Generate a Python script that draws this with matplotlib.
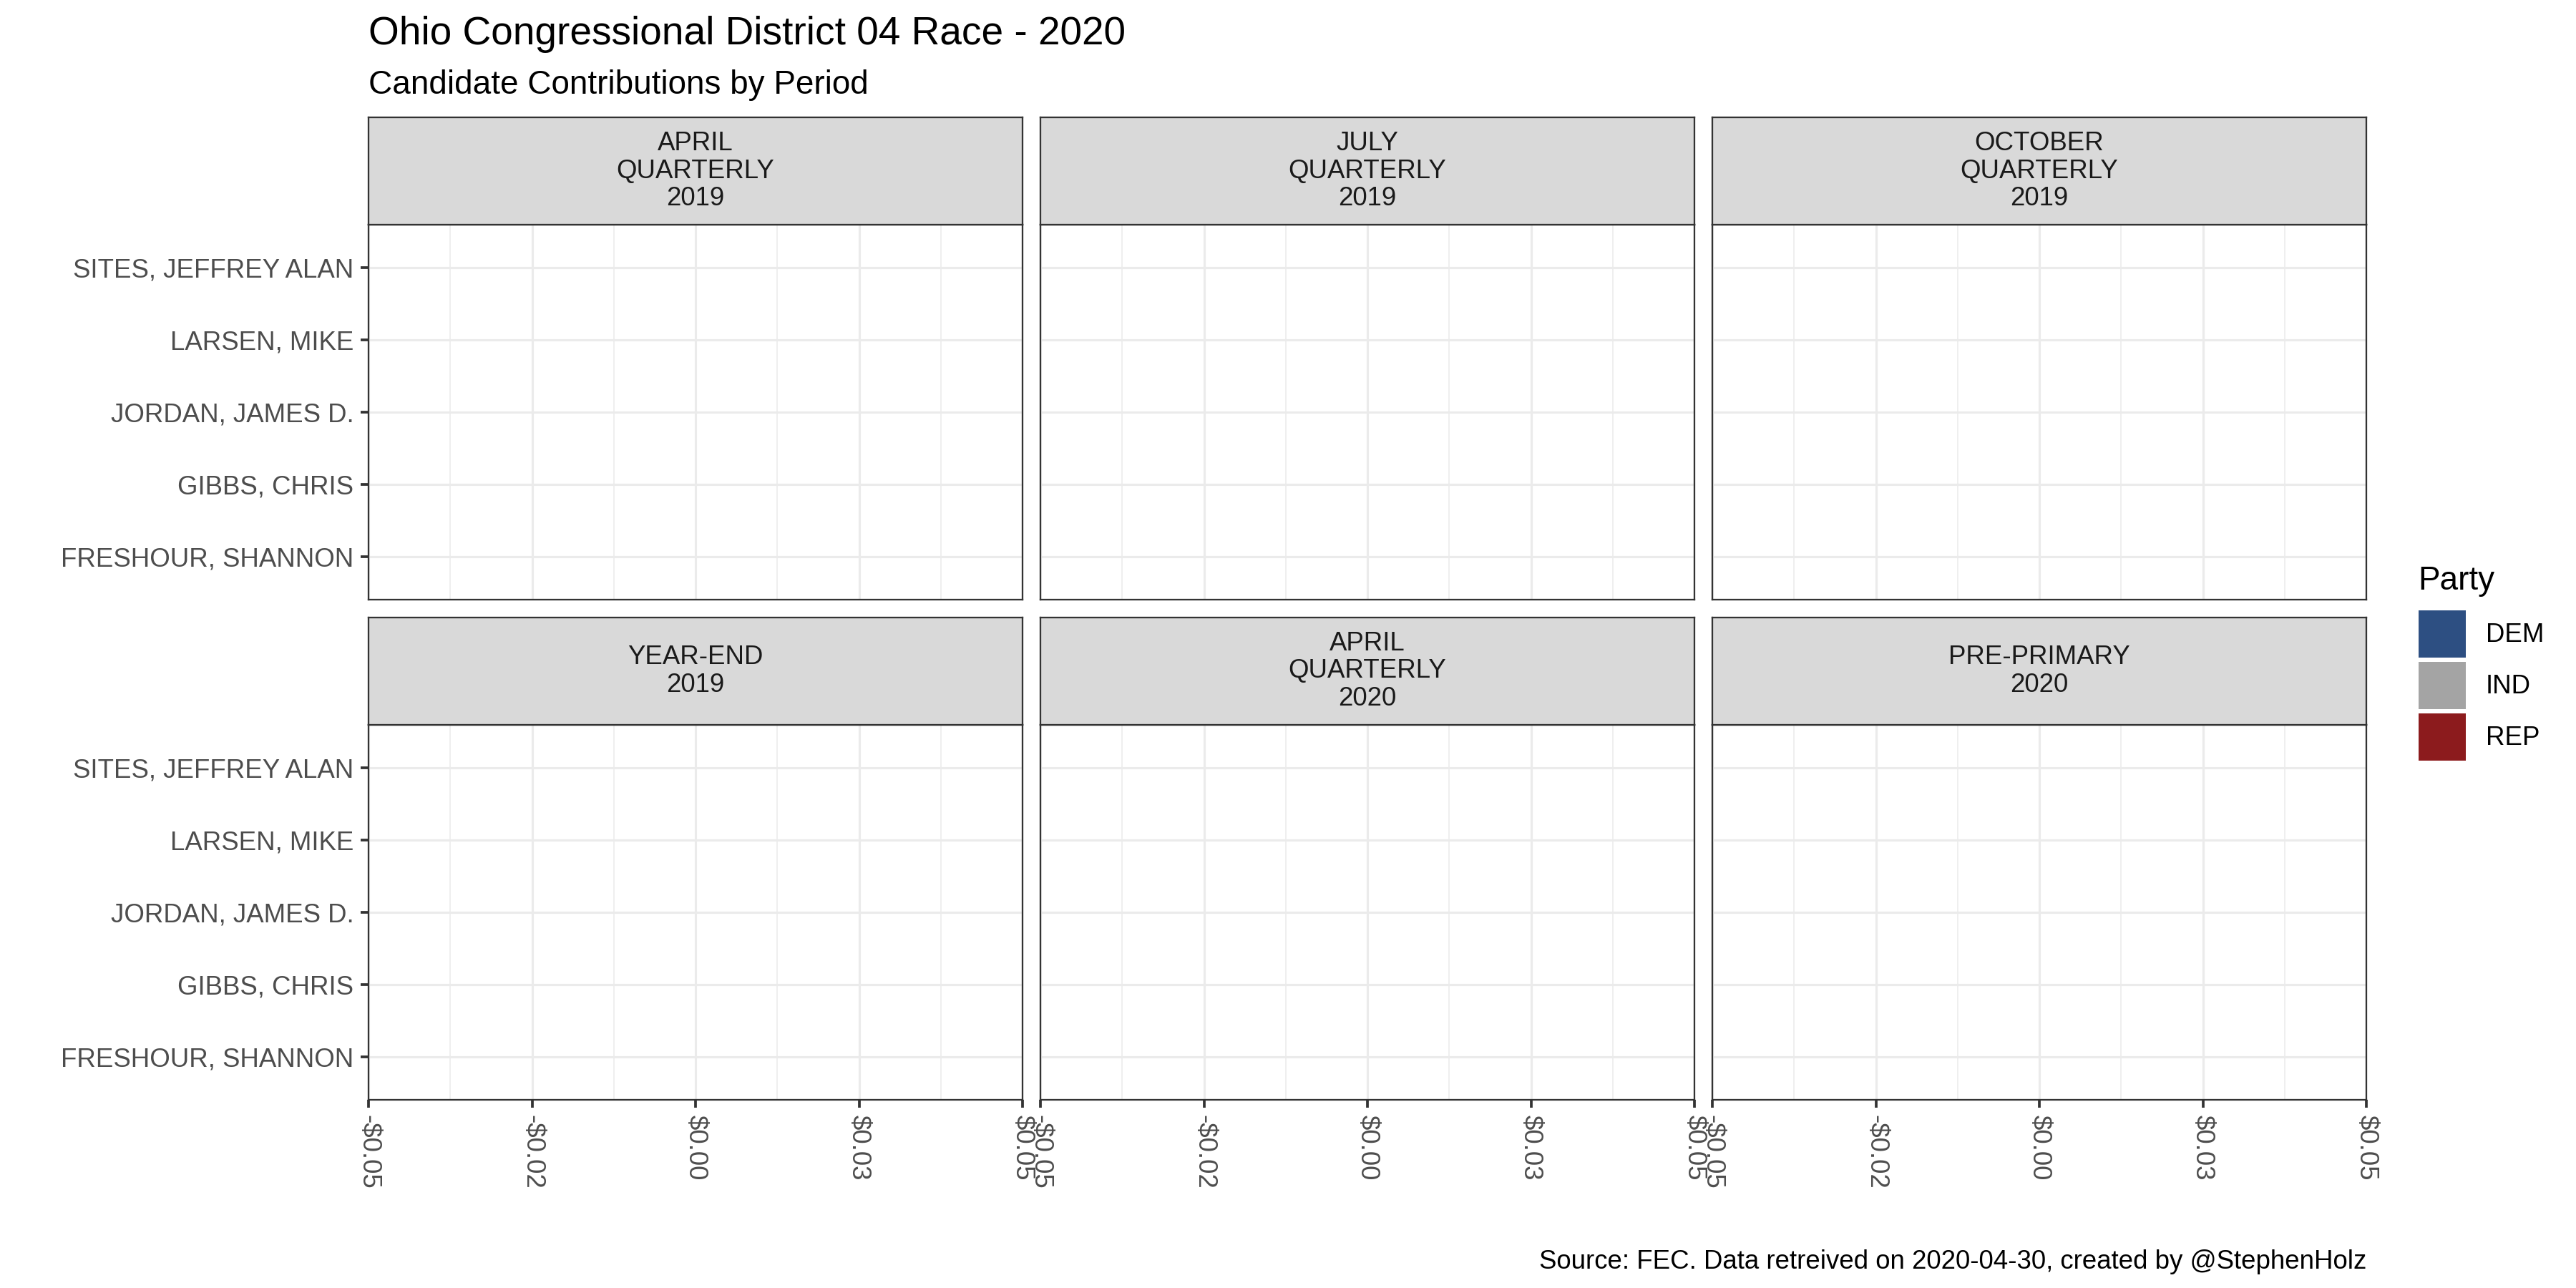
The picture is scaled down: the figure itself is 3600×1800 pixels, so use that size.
import matplotlib
matplotlib.use("Agg")
import matplotlib.pyplot as plt
from matplotlib.patches import Patch

plt.rcParams['font.family'] = ['Liberation Sans', 'DejaVu Sans']

# data
candidates = ['FRESHOUR, SHANNON', 'GIBBS, CHRIS', 'JORDAN, JAMES D.', 'LARSEN, MIKE', 'SITES, JEFFREY ALAN']
cand_party = ['DEM', 'IND', 'REP', 'DEM', 'DEM']
periods = ['APRIL\nQUARTERLY\n2019', 'JULY\nQUARTERLY\n2019', 'OCTOBER\nQUARTERLY\n2019',
           'YEAR-END\n2019', 'APRIL\nQUARTERLY\n2020', 'PRE-PRIMARY\n2020']
# contributions per period (same order as candidates) - nothing reported
contrib = [
    [0, 0, 0, 0, 0],
    [0, 0, 0, 0, 0],
    [0, 0, 0, 0, 0],
    [0, 0, 0, 0, 0],
    [0, 0, 0, 0, 0],
    [0, 0, 0, 0, 0],
]
parties = ['DEM', 'IND', 'REP']
party_colors = {'DEM': '#2D4F82', 'IND': '#A4A4A4', 'REP': '#8C1B1D'}
x_ticks = [-0.05, -0.025, 0.0, 0.025, 0.05]
x_labels = ['-$0.05', '-$0.02', '$0.00', '$0.03', '$0.05']
x_minor = [-0.0375, -0.0125, 0.0125, 0.0375]

W, H = 3600, 1800
fig = plt.figure(figsize=(12, 6), dpi=300)

def box(x0, y0, x1, y1):
    # pixel box (top-left origin) -> figure fraction rect
    return [x0 / W, 1 - y1 / H, (x1 - x0) / W, (y1 - y0) / H]

col_x = [(515, 1429), (1454, 2368), (2393, 3307)]
row_y = [(164, 314, 838), (863, 1013, 1537)]

border = '#333333'
for i, period in enumerate(periods):
    r, c = divmod(i, 3)
    x0, x1 = col_x[c]
    s0, s1, p1 = row_y[r]

    ax = fig.add_axes(box(x0, s1, x1, p1))
    ax.barh(range(len(candidates)), contrib[i], height=0.9,
            color=[party_colors[p] for p in cand_party])
    ax.set_xlim(-0.05, 0.05)
    ax.set_ylim(-0.6, len(candidates) - 0.4)
    ax.set_xticks(x_ticks)
    ax.set_xticks(x_minor, minor=True)
    ax.set_yticks(range(len(candidates)))
    ax.grid(True, which='major', color='#EBEBEB', lw=0.75)
    ax.grid(True, which='minor', axis='x', color='#EBEBEB', lw=0.38)
    ax.set_axisbelow(True)
    for sp in ax.spines.values():
        sp.set_color(border)
        sp.set_linewidth(0.55)
    ax.tick_params(which='minor', length=0)
    ax.tick_params(which='major', length=2.75, width=0.9, color=border,
                   labelsize=8.8, labelcolor='#4D4D4D', pad=2.2)
    if c == 0:
        ax.set_yticklabels(candidates)
    else:
        ax.tick_params(axis='y', length=0, labelleft=False)
    if r == 1:
        ax.set_xticklabels(x_labels, rotation=-90, ha='center', va='top')
    else:
        ax.tick_params(axis='x', length=0, labelbottom=False)

    sax = fig.add_axes(box(x0, s0, x1, s1))
    sax.set_facecolor('#D9D9D9')
    sax.set_xticks([])
    sax.set_yticks([])
    for sp in sax.spines.values():
        sp.set_color(border)
        sp.set_linewidth(0.55)
    sax.text(0.5, 0.5, period, ha='center', va='center', fontsize=8.8,
             color='#1A1A1A', linespacing=1.13, transform=sax.transAxes)

fig.text(515 / W, 1 - 22 / H, 'Ohio Congressional District 04 Race - 2020',
         fontsize=13.2, color='black', ha='left', va='top')
fig.text(515 / W, 1 - 97 / H, 'Candidate Contributions by Period',
         fontsize=11, color='black', ha='left', va='top')
fig.text(3307 / W, 1 - 1773 / H, 'Source: FEC. Data retreived on 2020-04-30, created by @StephenHolz',
         fontsize=8.8, color='black', ha='right', va='baseline')

# legend: title as separate text so the gap to the keys matches
fig.text(3379 / W, 1 - 824 / H, 'Party', fontsize=11, color='black',
         ha='left', va='baseline')
handles = [Patch(facecolor=party_colors[p], edgecolor='none', label=p) for p in parties]
fig.legend(handles=handles, loc='upper left',
           bbox_to_anchor=(3380 / W, 1 - 853 / H), frameon=False,
           fontsize=8.8, handlelength=1.8, handleheight=2.39, labelspacing=0.16,
           handletextpad=0.76, borderpad=0, borderaxespad=0)

fig.savefig('out.png', dpi=300, facecolor='white')
